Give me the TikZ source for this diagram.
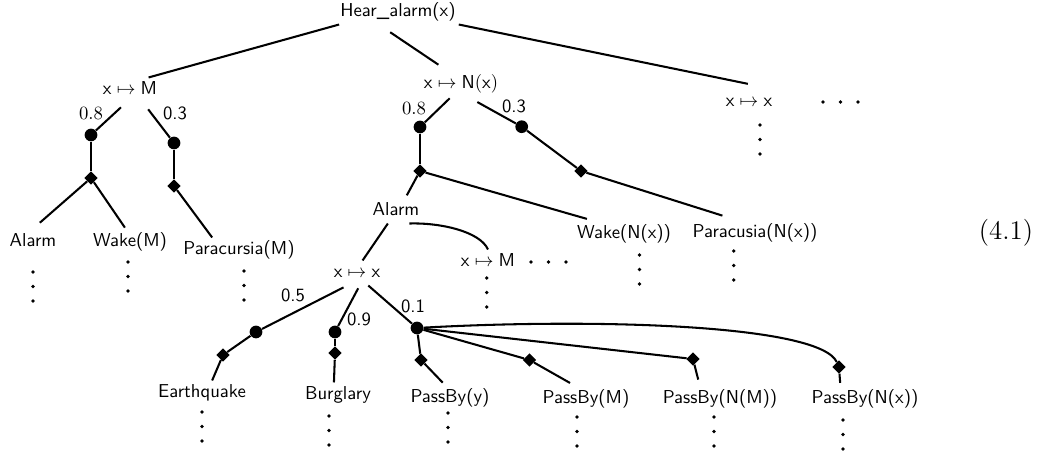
\documentclass[tikz,border=0pt]{standalone}
\usetikzlibrary{shapes.geometric}
\begin{document}
\begin{tikzpicture}[x=0.535pt,y=-0.535pt,
 lbl/.style={font=\sffamily, inner sep=1.5pt, text height=7.5pt, text depth=2.5pt},
 num/.style={font=\sffamily, inner sep=0pt},
 numrm/.style={font=\rmfamily, inner sep=0pt},
 ball/.style={circle, fill=black, inner sep=0pt, minimum size=6.8pt},
 dia/.style={diamond, fill=black, inner sep=0pt, minimum size=7.2pt},
 edge/.style={line width=1.1pt},
 vdts/.pic={\fill (0,0) circle (1pt) (0,14.5) circle (1pt) (0,29) circle (1pt);},
 hdts/.pic={\fill (0,0) circle (1pt) (17.5,0) circle (1pt) (35,0) circle (1pt);}]
\useasboundingbox (0,0) rectangle (1044,457);

% text nodes
\node[lbl] (hear) at (398,12) {Hear\_alarm(x)};
\node[lbl] (xm) at (130,90) {$\mathsf{x}\mapsto\mathsf{M}$};
\node[lbl] (xn) at (461,84) {$\mathsf{x}\mapsto\mathsf{N(x)}$};
\node[lbl] (xx) at (749,102) {$\mathsf{x}\mapsto\mathsf{x}$};
\node[lbl] (alarmL) at (33,242) {Alarm};
\node[lbl] (wakeM) at (130,242) {Wake(M)};
\node[lbl] (paraM) at (239,250) {Paracursia(M)};
\node[lbl] (alarmM) at (396,211) {Alarm};
\node[lbl] (wakeN) at (624,234) {Wake(N(x))};
\node[lbl] (paraN) at (755,233) {Paracusia(N(x))};
\node[font=\Large, inner sep=0pt] (eq) at (1006,233) {(4.1)};
\node[lbl] (xx2) at (357,273) {$\mathsf{x}\mapsto\mathsf{x}$};
\node[lbl] (xm2) at (488,262) {$\mathsf{x}\mapsto\mathsf{M}$};
\node[lbl] (quake) at (202,393) {Earthquake};
\node[lbl] (burg) at (338,395) {Burglary};
\node[lbl] (pby) at (450,398) {PassBy(y)};
\node[lbl] (pbm) at (586,399) {PassBy(M)};
\node[lbl] (pbnm) at (720,399) {PassBy(N(M))};
\node[lbl] (pbnx) at (865,399) {PassBy(N(x))};

% probabilities
\node[numrm] (p1) at (91,113) {0.8};
\node[num] (p2) at (175,113) {0.3};
\node[numrm] (p3) at (414,108) {0.8};
\node[num] (p4) at (514,106) {0.3};
\node[num] (p5) at (293,295) {0.5};
\node[num] (p6) at (359,319) {0.9};
\node[num] (p7) at (413,306) {0.1};

% balls and diamonds
\node[ball] (c1) at (91,135) {};
\node[dia] (d1) at (91,178) {};
\node[ball] (c2) at (174,143) {};
\node[dia] (d2) at (174,186) {};
\node[ball] (c3) at (420,127) {};
\node[dia] (d3) at (420,171) {};
\node[ball] (c4) at (521.7,126.7) {};
\node[dia] (d4) at (581,171) {};
\node[ball] (c5) at (256,332) {};
\node[dia] (d5) at (223,355) {};
\node[ball] (c6) at (335,332) {};
\node[dia] (d6) at (335,353) {};
\node[ball] (c7) at (417,328) {};
\node[dia] (d7) at (421,360) {};
\node[dia] (d8) at (529.5,360) {};
\node[dia] (d9) at (693,359) {};
\node[dia] (d10) at (839,367) {};

% connectors
\draw[edge] (hear.192) -- (xm.34);
\draw[edge, shorten <=7.4pt, shorten >=6.5pt] (hear.213) -- (xn.135);
\draw[edge, shorten >=15pt] (hear.south east) -- (xx.north east);

\draw[edge, shorten <=3.8pt] (xm.253) -- (c1);
\draw[edge] (c1) -- (d1);
\draw[edge, shorten >=5.5pt] (d1) -- (alarmL.94);
\draw[edge, shorten >=1.2pt] (d1) -- (wakeM.107);
\draw[edge, shorten <=4.6pt] (xm.316) -- (c2);
\draw[edge] (c2) -- (d2);
\draw[edge] (d2) -- (paraM.155);

\draw[edge, shorten <=1.4pt] (xn.233) -- (c3);
\draw[edge] (c3) -- (d3);
\draw[edge, shorten >=1.9pt] (d3) -- (alarmM.54);
\draw[edge, shorten >=5pt] (d3) -- (wakeN.156);
\draw[edge, shorten <=6.1pt] (xn.297) -- (c4);
\draw[edge] (c4) -- (d4);
\draw[edge, shorten >=8.6pt] (d4) -- (paraN.144);

\draw[edge] (alarmM.237) -- (xx2.66);
\draw[edge] (alarmM.317) .. controls +(31,-1) and +(-8,-18) .. (xm2.north);

\draw[edge, shorten <=2.2pt] (xx2.232) -- (c5);
\draw[edge] (c5) -- (d5);
\draw[edge] (d5) -- (quake.51);
\draw[edge, shorten <=1.7pt] (xx2.282) -- (c6);
\draw[edge] (c6) -- (d6);
\draw[edge] (d6) -- (burg.108);
\draw[edge] (xx2.312) -- (c7);
\draw[edge] (c7) -- (d7);
\draw[edge, shorten >=2.1pt] (d7) -- (pby.110);
\draw[edge] (c7) -- (d8);
\draw[edge, shorten >=3.8pt] (d8) -- (pbm.128);
\draw[edge] (c7) -- (d9);
\draw[edge, shorten >=3.8pt] (d9) -- (pbnm.148);
\draw[edge] (c7) .. controls +(183,-10) and +(-19,-42) .. (d10);
\draw[edge, shorten >=1.9pt] (d10) -- (pbnx.153);

% ellipses
\pic at (33,272) {vdts};
\pic at (128,262) {vdts};
\pic at (244,271) {vdts};
\pic at (760,125) {vdts};
\pic at (823,102) {hdts};
\pic at (486.7,278) {vdts};
\pic at (531,262) {hdts};
\pic at (639.6,255) {vdts};
\pic at (733.8,251) {vdts};
\pic at (202,412) {vdts};
\pic at (329,416) {vdts};
\pic at (448,413) {vdts};
\pic at (577,417) {vdts};
\pic at (714,417) {vdts};
\pic at (843,420) {vdts};
\end{tikzpicture}
\end{document}
